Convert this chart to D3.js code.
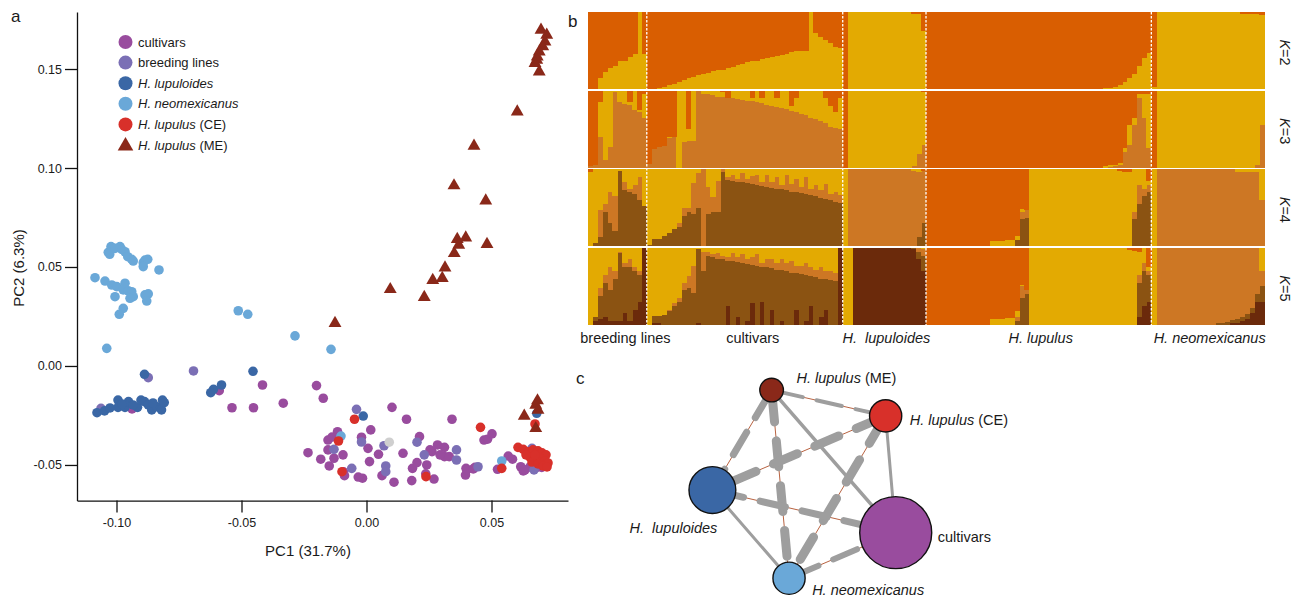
<!DOCTYPE html>
<html>
<head>
<meta charset="utf-8">
<script src="https://cdn.jsdelivr.net/npm/d3@7"></script>
<style>
  body { margin: 0; background: #fff; }
  text { font-family: "Liberation Sans", Arial, sans-serif; fill: #1a1a1a; }
</style>
</head>
<body>
<svg id="fig" width="1293" height="599"></svg>
<script>
// ---------- panel a: PCA ----------
const groupNames = ["cultivars", "breeding lines", "H. lupuloides", "H. neomexicanus", "H. lupulus (CE)", "H. lupulus (ME)"];
const xTicks = [-0.10, -0.05, 0.00, 0.05];
const yTicks = [-0.05, 0.00, 0.05, 0.10, 0.15];

const cultivarsPC = [[-0.0589,-0.0125],[-0.0538,-0.0211],[-0.0416,-0.0096],[-0.0452,-0.0211],[-0.0333,-0.0188],[-0.0200,-0.0099],[-0.0173,-0.0163],[-0.0938,-0.0217],
  [0.0102,-0.0209],[0.0160,-0.0269],[0.0342,-0.0269],[0.0017,-0.0323],[-0.0116,-0.0332],[-0.0154,-0.0374],[-0.0138,-0.0359],[-0.0020,-0.0360],[0.0006,-0.0416],[0.0212,-0.0357],
  [-0.0234,-0.0438],[-0.0154,-0.0424],[-0.0094,-0.0449],[-0.0183,-0.0471],[-0.0130,-0.0466],[-0.0149,-0.0505],[-0.0088,-0.0554],[-0.0016,-0.0567],[0.0048,-0.0446],[0.0012,-0.0483],
  [0.0062,-0.0554],[0.0110,-0.0587],[0.0146,-0.0441],[0.0181,-0.0579],[0.0184,-0.0517],[0.0202,-0.0488],[0.0241,-0.0500],[0.0237,-0.0545],[0.0270,-0.0571],[0.0262,-0.0433],
  [0.0284,-0.0399],[0.0312,-0.0411],[0.0312,-0.0458],[0.0331,-0.0458],[0.0398,-0.0517],[0.0396,-0.0551],[0.0434,-0.0512],[0.0470,-0.0374],[0.0484,-0.0370],[0.0502,-0.0343],
  [0.0524,-0.0522],[0.0567,-0.0455],[0.0584,-0.0471],[0.0617,-0.0509],[0.0627,-0.0530],[0.0654,-0.0510],[0.0701,-0.0512],[-0.0092,-0.0535],[-0.0033,-0.0561],
  [0.0254,-0.0424],[0.0294,-0.0449],[0.0401,-0.0525],[0.0427,-0.0520],[0.0634,-0.0525],[0.0681,-0.0512]];
const breedingPC = [[-0.0873,-0.0059],[-0.1062,-0.0214],[-0.0692,-0.0025],[-0.0040,-0.0219],[-0.0020,-0.0384],[0.0070,-0.0403],[0.0202,-0.0385],[-0.0130,-0.0421],
  [-0.0059,-0.0517],[0.0077,-0.0505],[0.0077,-0.0534],[0.0231,-0.0449],[0.0360,-0.0424],[0.0360,-0.0475],[0.0446,-0.0509],[0.0662,-0.0416],[0.0670,-0.0525]];
const lupuloidesPC = [[-0.1078,-0.0236],[-0.1048,-0.0227],[-0.0994,-0.0172],[-0.0994,-0.0209],[-0.0966,-0.0209],[-0.0952,-0.0180],[-0.0916,-0.0209],[-0.0902,-0.0172],
  [-0.0888,-0.0180],[-0.0873,-0.0197],[-0.0859,-0.0222],[-0.0838,-0.0206],[-0.0820,-0.0222],[-0.0816,-0.0172],[-0.0809,-0.0185],[-0.1026,-0.0212],[-0.0934,-0.0197],
  [-0.0978,-0.0192],[-0.0854,-0.0187],[-0.0888,-0.0042],[-0.0612,-0.0118],[-0.0623,-0.0135],[-0.0580,-0.0096],[-0.0454,-0.0027],[-0.0013,-0.0253],[0.0681,-0.0239]];
const neomexicanusPC = [[-0.1022,0.0603],[-0.1033,0.0574],[-0.1027,0.0564],[-0.1006,0.0594],[-0.0986,0.0603],[-0.0979,0.0589],[-0.0966,0.0577],[-0.0955,0.0552],
  [-0.0939,0.0539],[-0.0933,0.0530],[-0.0893,0.0522],[-0.0886,0.0535],[-0.0875,0.0539],[-0.0893,0.0502],[-0.0830,0.0485],[-0.1086,0.0446],[-0.1046,0.0429],[-0.1019,0.0409],
  [-0.0999,0.0401],[-0.0966,0.0418],[-0.0973,0.0384],[-0.0953,0.0380],[-0.0939,0.0375],[-0.0933,0.0350],[-0.0946,0.0342],[-0.1006,0.0350],[-0.0886,0.0359],[-0.0873,0.0364],
  [-0.0879,0.0328],[-0.0973,0.0291],[-0.0989,0.0261],[-0.1039,0.0089],[-0.0513,0.0279],[-0.0475,0.0261],[-0.0286,0.0152],[-0.0142,0.0084],[-0.0102,-0.0354],[0.0541,-0.0480]];
const lupulusCEPC = [[-0.0048,-0.0269],[-0.0112,-0.0379],[-0.0098,-0.0534],[0.0238,-0.0559],[0.0456,-0.0310],[0.0541,-0.0517],[0.0606,-0.0411],[0.0627,-0.0421],[0.0674,-0.0293],
  [0.0646,-0.0434],[0.0666,-0.0424],[0.0686,-0.0429],[0.0702,-0.0439],[0.0718,-0.0449],[0.0654,-0.0460],[0.0678,-0.0465],[0.0698,-0.0470],[0.0714,-0.0480],[0.0726,-0.0490],
  [0.0662,-0.0485],[0.0686,-0.0495],[0.0706,-0.0505],[0.0722,-0.0510],[0.0638,-0.0449],[0.0674,-0.0449]];
const lupulusMEPC = [[0.0698,0.1697],[0.0721,0.1672],[0.0714,0.1638],[0.0705,0.1613],[0.0691,0.1587],[0.0683,0.1562],[0.0681,0.1545],[0.0674,0.1529],[0.0691,0.1486],
  [0.0603,0.1284],[0.0430,0.1111],[0.0350,0.0911],[0.0477,0.0835],[0.0397,0.0648],[0.0363,0.0640],[0.0369,0.0611],[0.0351,0.0569],[0.0482,0.0615],[0.0314,0.0496],
  [0.0303,0.0443],[0.0265,0.0433],[0.0095,0.0387],[0.0231,0.0347],[-0.0126,0.0216],[0.0631,-0.0253],[0.0677,-0.0197],[0.0684,-0.0175],[0.0677,-0.0315],[0.0686,-0.0222]];
const unassignedPC = [[0.0091,-0.0385]];

// ---------- panel b: admixture proportions (bottom to top; orange = remainder) ----------
const structGroups = ["breeding lines", "cultivars", "H. lupuloides", "H. lupulus", "H. neomexicanus"];
const structGroupSizes = [12, 40, 17, 46, 23];
const kValues = [2, 3, 4, 5];

const k2Yellow = [
  0,0,.15,.22,.27,.3,.37,.37,.42,.45,1,.45,
  0,0,.02,.03,.05,.07,.09,.12,.14,.16,.18,.2,.21,.23,.25,.25,.27,.29,.31,.33,.35,.36,.37,.39,.4,.42,.43,.44,.46,.48,.49,.49,.5,1,.73,.68,.64,.6,.55,.53,
  0,1,1,1,1,1,1,1,1,1,1,1,1,1,.98,.97,.75,
  0,0,0,0,0,0,0,0,0,0, 0,0,0,0,0,0,0,0,0,0, 0,0,0,0,0,0,0,0,0,0, 0,0,0,0,0,0, .01,.02,.03,.05,.09,.14,.2,.3,.4,.47,
  .03,1,1,1,1,1,1,1,1,1,1,1,1,1,1,1,1,1,.98,.97,.97,.97,.96
];

const k3C3 = [
  .02,.03,.4,.1,.27,.98,.85,.83,.82,.75,.72,.65,
  .05,.24,.27,.28,.38,.4,0,.33,.35,.35,.99,.96,.95,.94,.92,.92,.9,.9,.89,.88,.87,.86,.85,.84,.82,.8,.79,.77,.76,.74,.72,.7,.68,.65,.63,.6,.58,.53,.52,.5,
  0,0,0,0,0,0,0,0,0,0,0,0,0,0,.02,.18,.3,
  0,0,0,0,0,0,0,0,0,0, 0,0,0,0,0,0,0,0,0,0, 0,0,0,0,0,0,0,0,0,0, 0,0,0,0,0,0, 0,.01,.02,.03,.2,.3,.55,.9,.65,.25,
  0,0,0,0,0,0,0,0,0,0,0,0,0,0,0,0,0,0,0,0,0,.03,.55
];
const k3Yellow = [
  0,0,.45,.9,.73,.02,.15,.17,.03,.25,.03,.3,
  0,0,0,0,.02,0,1,.67,.15,.65,.01,.04,.05,.06,.08,.06,0,.1,.11,.12,.13,.04,.15,.06,.18,.2,.11,.23,.24,.06,.18,.3,.32,.35,.37,.4,.32,.27,.2,.4,
  0,1,1,1,1,1,1,1,1,1,1,1,1,1,.98,.82,.68,
  0,0,0,0,0,0,0,0,0,0, 0,0,0,0,0,0,0,0,0,0, 0,0,0,0,0,0,0,0,0,0, 0,0,0,0,0,0, .02,.02,.02,.03,.05,.25,.1,.05,.3,.7,
  0,1,1,1,1,1,1,1,1,1,1,1,1,1,1,1,1,1,1,1,1,.97,.45
];

const k4C4 = [
  0,.05,.12,.45,.3,.2,.98,.73,.7,.68,.6,.52,
  .02,.1,.1,.13,.17,.22,.25,.4,.45,.42,.5,0,.42,.44,.45,.97,.86,.85,.84,.83,.82,.81,.79,.78,.77,.76,.75,.74,.73,.71,.7,.69,.68,.66,.65,.63,.61,.6,.58,.56,
  0,0,0,0,0,0,0,0,0,0,0,0,0,0,0,.12,.3,
  0,0,0,0,0,0,0,0,0,0, 0,0,0,0,0,0,0,0, .08,.35,.37, 0,0,0,0,0,0,0,0,0,0, 0,0,0,0,0,0,0,0,0,0, 0, .35,.55,.65,.7,
  0,0,0,0,0,0,0,0,0,0,0,0,0,0,0,0,0,0,0,0,0,0,0
];
const k4C3 = [
  0,0,.35,.1,.4,.45,0,.1,.05,.12,.3,0,
  0,0,0,0,0,0,.05,.1,.05,.4,.45,1,.35,.2,.4,.03,.04,.08,.04,.12,.06,.1,.14,.05,.15,.07,.15,.06,.2,.1,.18,.08,.22,.08,.15,.1,.2,.08,.12,.1,
  0,1,1,1,1,1,1,1,1,1,1,1,1,1,.98,.85,.68,
  0,0,0,0,0,0,0,0,0,0, 0,0,0,0,0,0,0,0,0, .1,.1, 0,0,0,0,0,0,0,0,0,0, 0,0,0,0,0,0,0,0,0,0, 0, .1,.25,.1,.1,
  0,1,1,1,1,1,1,1,1,1,1,1,1,1,1,1,1,.97,.97,.97,.97,.97,.6
];
const k4Yellow = [
  .97,.95,.53,.45,.3,.35,.02,.17,.25,.2,.1,.48,
  .98,.9,.9,.87,.83,.78,.7,.5,.5,.18,.05,0,.23,.36,.15,0,.1,.07,.12,.05,.12,.09,.07,.17,.08,.17,.1,.2,.07,.19,.12,.23,.1,.26,.2,.27,.19,.32,.3,.34,
  1,0,0,0,0,0,0,0,0,0,0,0,0,0,.02,.03,0,
  0,0,0,0,0,0,0,0,0,0, 0,0,0, .07,.07,.07,.08,.08,.05,.03,0, 1,1,1,1,1,1,1,1,1,1, 1,1,1,1,1,1,1,1, .98,.97,.96, .55,.2,.25,.05,
  1,0,0,0,0,0,0,0,0,0,0,0,0,0,0,0,0,.03,.03,.03,.03,.03,.4
];

const k5C5 = [
  0,.05,.08,.1,.05,.05,.05,.15,.05,.2,.3,1,
  0,.02,.02,0,0,0,0,0,0,0,.03,0,0,0,0,0,.25,0,.1,0,.05,.28,0,.3,0,.2,0,.05,0,0,.2,0,.05,.25,0,.1,.2,0,0,1,
  0,0,1,1,1,1,1,1,1,1,1,1,1,1,.98,.85,.7,
  0,0,0,0,0,0,0,0,0,0, 0,0,0,0,0,0,0,0,0,0, 0,0,0,0,0,0,0,0,0,0, 0,0,0,0,0,0,0,0,0,0, 0,0,0, .1,.25,.3,
  0,0,0,0,0,0,0,0,0,0,0,0,0,0,0,0,.02,.03,.05,.08,.15,.3,.3
];
const k5C4 = [
  0,.05,.3,.45,.4,.55,.88,.6,.7,.5,.35,0,
  0,.1,.1,.13,.18,.25,.3,.45,.48,.42,.95,.7,.9,.88,.86,.85,.58,.83,.72,.8,.74,.5,.77,.45,.75,.54,.72,.66,.7,.68,.47,.66,.6,.38,.62,.5,.4,.58,.57,0,
  0,0,0,0,0,0,0,0,0,0,0,0,0,0,.02,.1,.2,
  0,0,0,0,0,0,0,0,0,0, 0,0,0,0,0,0,0,0, .05,.35,.4, 0,0,0,0,0,0,0,0,0,0, 0,0,0,0,0,0,0,0,0,0, 0,0, .45,.45,.35,
  0,0,0,0,0,0,0,0,0,0,0,0,0,.02,.03,.04,.04,.05,.05,.06,.07,.1,.2
];
const k5C3 = [
  0,0,.1,.1,.3,.1,.02,.05,.1,.05,.05,0,
  0,0,0,0,.02,.03,.05,.1,.15,.35,0,.25,.05,.04,.08,.05,.05,.1,.06,.12,.06,.1,.15,.05,.1,.12,.08,.14,.1,.15,.1,.1,.15,.12,.1,.15,.1,.12,.1,0,
  0,0,0,0,0,0,0,0,0,0,0,0,0,0,0,.05,.08,
  0,0,0,0,0,0,0,0,0,0, 0,0,0,0,0,0,0,0, .05,.15,.05, 0,0,0,0,0,0,0,0,0,0, 0,0,0,0,0,0,0,0,0,0, 0,0, .1,.1,.05,
  0,1,1,1,1,1,1,1,1,1,1,1,1,.98,.97,.96,.94,.92,.9,.86,.78,.6,.2
];
const k5Yellow = [
  1,.9,.52,.35,.25,.3,.05,.2,.15,.25,.3,0,
  1,.88,.88,.87,.8,.72,.65,.45,.37,.23,.02,.05,.05,.08,.06,.1,.12,.07,.12,.08,.15,.12,.08,.2,.15,.14,.2,.15,.2,.17,.23,.24,.2,.25,.28,.25,.3,.3,.33,0,
  1,1,0,0,0,0,0,0,0,0,0,0,0,0,0,0,.02,
  0,0,0,0,0,0,0,0,0,0, 0,0,0, .08,.08,.08,.09,.09,.08,.02,0, 1,1,1,1,1,1,1,1,1,1, 1,1,1,1,1,1,1,1,1,1, .97,.96, .3,.2,.05,
  1,0,0,0,0,0,0,0,0,0,0,0,0,0,0,0,0,0,0,0,0,0,.3
];

// ---------- panel c: network ----------
const netNodes = ["H. lupulus (ME)", "H. lupulus (CE)", "H. lupuloides", "cultivars", "H. neomexicanus"];
const netLayoutX = [0.341, 0.884, 0.059, 0.932, 0.424];
const netLayoutY = [0.048, 0.171, 0.524, 0.727, 0.944];
const netSampleSize = [14, 26, 55, 130, 26];
const netLinks = [[0,1,.4],[0,2,.7],[0,4,.9],[0,3,.35],[1,2,.9],[1,4,.9],[1,3,.3],[2,3,.7],[2,4,.3],[4,3,.6]];

// ================= drawing =================
const svg = d3.select("#fig");
const fmt = d => d3.format(".2f")(d).replace("\u2212", "-");

function speciesText(sel, name) {
  const m = name.match(/^(H\.\s+\w+)(.*)$/);
  if (m) {
    sel.append("tspan").attr("font-style", "italic").text(m[1]);
    if (m[2]) sel.append("tspan").text(m[2]);
  } else sel.text(name);
}

// ---- panel a
const colA = {"cultivars": "#994c9e", "breeding lines": "#7b6fb5", "H. lupuloides": "#3a67a5",
  "H. neomexicanus": "#6aa8d8", "H. lupulus (CE)": "#d8302a", "H. lupulus (ME)": "#8a2819"};
const x = d3.scaleLinear().domain([-0.1158, 0.0806]).range([77, 568]);
const y = d3.scaleLinear().domain([-0.068, 0.1788]).range([500.6, 12]);

const gA = svg.append("g");
const xAx = gA.append("g").attr("transform", "translate(0,500.6)")
  .call(d3.axisBottom(x).tickValues(xTicks).tickSize(12).tickSizeOuter(0).tickPadding(6).tickFormat(fmt));
const yAx = gA.append("g").attr("transform", "translate(77,0)")
  .call(d3.axisLeft(y).tickValues(yTicks).tickSize(12).tickSizeOuter(0).tickPadding(3).tickFormat(fmt));
[xAx, yAx].forEach(a => {
  a.selectAll("path,line").attr("stroke", "#111").attr("stroke-width", 1.3);
  a.selectAll("text").attr("font-size", 12.5).attr("font-family", "Liberation Sans, Arial, sans-serif").attr("fill", "#1a1a1a");
});
gA.append("text").attr("x", 308).attr("y", 556).attr("text-anchor", "middle").attr("font-size", 15).text("PC1 (31.7%)");
gA.append("text").attr("transform", "translate(24,268) rotate(-90)").attr("text-anchor", "middle").attr("font-size", 15).text("PC2 (6.3%)");

const dots = [
  [cultivarsPC, "cultivars"], [breedingPC, "breeding lines"], [neomexicanusPC, "H. neomexicanus"],
  [lupuloidesPC, "H. lupuloides"], [unassignedPC, null], [lupulusCEPC, "H. lupulus (CE)"]
];
dots.forEach(([pts, g]) => {
  gA.append("g").selectAll("circle").data(pts).join("circle")
    .attr("cx", d => x(d[0])).attr("cy", d => y(d[1])).attr("r", 4.8)
    .attr("fill", g ? colA[g] : "#cfcfcf");
});
const tri = d3.symbol().type(d3.symbolTriangle).size(72);
gA.append("g").selectAll("path").data(lupulusMEPC).join("path")
  .attr("d", tri).attr("transform", d => `translate(${x(d[0])},${y(d[1])})`)
  .attr("fill", colA["H. lupulus (ME)"]);

// legend
const ly = d3.scalePoint().domain(groupNames).range([42, 145]);
const leg = gA.append("g");
groupNames.forEach(g => {
  if (g === "H. lupulus (ME)") {
    leg.append("path").attr("d", d3.symbol().type(d3.symbolTriangle).size(105))
      .attr("transform", `translate(125.5,${ly(g) + 1})`).attr("fill", colA[g]);
  } else {
    leg.append("circle").attr("cx", 125.5).attr("cy", ly(g)).attr("r", 7).attr("fill", colA[g]);
  }
  leg.append("text").attr("x", 138).attr("y", ly(g)).attr("dy", "0.35em").attr("font-size", 13)
    .call(speciesText, g);
});
svg.append("text").attr("x", 11).attr("y", 22).attr("font-size", 17).text("a");

// ---- panel b
const structCol = {c5: "#6b2a0b", c4: "#8b5312", c3: "#cd7724", y: "#e3aa02", o: "#d95e01"};
const nBars = d3.sum(structGroupSizes);
const bx = d3.scaleBand().domain(d3.range(nBars)).range([588, 1264]).paddingInner(0);
const rowBand = d3.scaleBand().domain(kValues).range([12, 325]).paddingInner(0.02);
const zeros = new Array(nBars).fill(0);
const comps = {
  2: {c5: zeros, c4: zeros, c3: zeros, y: k2Yellow},
  3: {c5: zeros, c4: zeros, c3: k3C3, y: k3Yellow},
  4: {c5: zeros, c4: k4C4, c3: k4C3, y: k4Yellow},
  5: {c5: k5C5, c4: k5C4, c3: k5C3, y: k5Yellow}
};
const keys = ["c5", "c4", "c3", "y", "o"];
const gB = svg.append("g");
kValues.forEach(k => {
  const c = comps[k];
  const rows = d3.range(nBars).map(i => {
    const r = {c5: c.c5[i] || 0, c4: c.c4[i] || 0, c3: c.c3[i] || 0, y: c.y[i] || 0};
    r.o = Math.max(0, 1 - r.c5 - r.c4 - r.c3 - r.y);
    return r;
  });
  const top = rowBand(k), h = rowBand.bandwidth();
  const yy = d3.scaleLinear().domain([0, 1]).range([top + h, top]).clamp(true);
  const series = d3.stack().keys(keys)(rows);
  series.forEach(s => {
    gB.append("g").attr("fill", structCol[s.key]).selectAll("rect").data(s).join("rect")
      .attr("x", (d, i) => bx(i)).attr("width", bx.bandwidth() + 0.6)
      .attr("y", d => yy(d[1])).attr("height", d => Math.max(0, yy(d[0]) - yy(d[1])))
      .attr("shape-rendering", "crispEdges");
  });
  gB.append("text").attr("transform", `translate(1280,${top + h / 2 + 2}) rotate(90)`)
    .attr("text-anchor", "middle").attr("font-size", 14.5)
    .call(t => { t.append("tspan").attr("font-style", "italic").text("K"); t.append("tspan").text("=" + k); });
});
// group separators + labels
let start = 0;
structGroups.forEach((g, gi) => {
  const x0 = bx(start), x1 = bx(start + structGroupSizes[gi] - 1) + bx.bandwidth();
  if (gi > 0) {
    gB.append("line").attr("x1", x0).attr("x2", x0).attr("y1", 12).attr("y2", 325)
      .attr("stroke", "#fff").attr("stroke-width", 1.3).attr("stroke-dasharray", "2.5,1.5");
  }
  gB.append("text").attr("x", (x0 + x1) / 2 + (gi < 2 ? 8 : 2)).attr("y", 343).attr("text-anchor", "middle")
    .attr("font-size", 14.5).call(speciesText, g === "H. lupuloides" ? "H.\u00a0 lupuloides" : g);
  start += structGroupSizes[gi];
});
svg.append("text").attr("x", 568).attr("y", 27).attr("font-size", 17).text("b");

// ---- panel c
const netCol = ["#8a2819", "#d8302a", "#3a67a5", "#994c9e", "#6aa8d8"];
const nx = d3.scaleLinear().domain([0, 1]).range([700, 910]);
const ny = d3.scaleLinear().domain([0, 1]).range([380, 590]);
const nr = d3.scaleSqrt().domain([0, 130]).range([0, 36]);
const lw = d3.scaleLinear().domain([0, 1]).range([0, 10]);
const gC = svg.append("g");
netLinks.forEach(([s, t, v]) => {
  const w = lw(v);
  const x1 = nx(netLayoutX[s]), y1 = ny(netLayoutY[s]), x2 = nx(netLayoutX[t]), y2 = ny(netLayoutY[t]);
  // thin brown connector, visible in the gaps of the grey dashes
  gC.append("line").attr("x1", x1).attr("y1", y1).attr("x2", x2).attr("y2", y2)
    .attr("stroke", "#b0502a").attr("stroke-width", 0.9);
  gC.append("line").attr("x1", x1).attr("y1", y1).attr("x2", x2).attr("y2", y2)
    .attr("stroke", "#9e9e9e").attr("stroke-width", w).attr("stroke-linecap", "round")
    .attr("stroke-dasharray", v >= 0.4 ? `26 ${10 + w}` : null)
    .attr("stroke-dashoffset", v >= 0.4 ? -6 : null);
});
gC.selectAll("circle").data(netNodes).join("circle")
  .attr("cx", (d, i) => nx(netLayoutX[i])).attr("cy", (d, i) => ny(netLayoutY[i]))
  .attr("r", (d, i) => nr(netSampleSize[i])).attr("fill", (d, i) => netCol[i])
  .attr("stroke", "#111").attr("stroke-width", 1.4);
const labelPlace = [[13, -7, "start"], [8, 9, "start"], [5, 43, "end"], [6, 9, "start"], [7, 17, "start"]];
netNodes.forEach((n, i) => {
  const [dx, dy, anchor] = labelPlace[i];
  const r = nr(netSampleSize[i]);
  gC.append("text")
    .attr("x", nx(netLayoutX[i]) + (anchor === "end" ? dx : r + dx))
    .attr("y", ny(netLayoutY[i]) + dy).attr("text-anchor", anchor).attr("font-size", 14.5)
    .call(speciesText, n === "H. lupuloides" ? "H.\u00a0 lupuloides" : n);
});
svg.append("text").attr("x", 576).attr("y", 384).attr("font-size", 17).text("c");
</script>
</body>
</html>
